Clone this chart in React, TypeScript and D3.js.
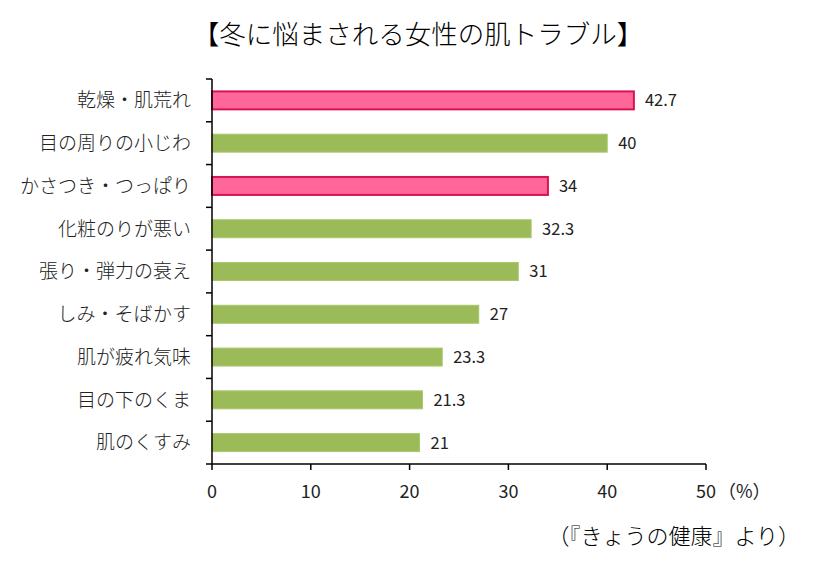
import React from "react";
import * as d3 from "d3";

const categories = ["乾燥・肌荒れ", "目の周りの小じわ", "かさつき・つっぱり", "化粧のりが悪い", "張り・弾力の衰え", "しみ・そばかす", "肌が疲れ気味", "目の下のくま", "肌のくすみ"];
const values = [42.7, 40, 34, 32.3, 31, 27, 23.3, 21.3, 21];
const highlighted = [true, false, true, false, false, false, false, false, false];
const xTicks = [0, 10, 20, 30, 40, 50];
const title = "【冬に悩まされる女性の肌トラブル】";
const source = "（『きょうの健康』より）";

const W = 816, H = 563;
const left = 212, right = 706, top = 79, bottom = 464;
const font = "'Noto Sans CJK JP', 'Noto Sans', sans-serif";

export default function App() {
  const x = d3.scaleLinear().domain([0, 50]).range([left, right]);
  const y = d3.scaleBand<string>().domain(categories).range([top, bottom]).paddingInner(0.58).paddingOuter(0.29);
  const yb = d3.scaleBand<string>().domain(categories).range([top, bottom]);
  return (
    <svg width={W} height={H} style={{ position: "absolute", left: 0, top: 0, background: "#fff" }} fontFamily={font}>
      <text x={418} y={44} textAnchor="middle" fontSize={26.5} fill="#000" fontWeight={300}>{title}</text>
      {categories.map((c, i) => (
        <g key={c}>
          <rect x={x(0)} y={y(c)!} width={x(values[i]) - x(0)} height={y.bandwidth()}
            fill={highlighted[i] ? "#FF6699" : "#9BBB59"}
            stroke={highlighted[i] ? "#D9134F" : "#A9C76B"} strokeWidth={highlighted[i] ? 2 : 1} />
          <text x={x(values[i]) + 11} y={y(c)! + y.bandwidth() / 2} dy="0.36em" fontSize={16.5} fill="#222">{values[i]}</text>
          <text x={191} y={yb(c)! + yb.bandwidth() / 2} dy="0.36em" textAnchor="end" fontSize={19} fill="#222" fontWeight={300}>{c}</text>
        </g>
      ))}
      <line x1={left} x2={left} y1={top} y2={bottom} stroke="#000" strokeWidth={1.5} />
      {categories.map((c, i) => (
        <line key={"t" + i} x1={left - 6} x2={left} y1={yb(c)!} y2={yb(c)!} stroke="#000" strokeWidth={1.5} />
      ))}
      <line x1={left - 6} x2={left} y1={bottom} y2={bottom} stroke="#000" strokeWidth={1.5} />
      <line x1={left} x2={right} y1={bottom} y2={bottom} stroke="#000" strokeWidth={1.5} />
      {xTicks.map(t => (
        <g key={t}>
          <line x1={x(t)} x2={x(t)} y1={bottom} y2={bottom + 6} stroke="#000" strokeWidth={1.5} />
          <text x={x(t)} y={498} textAnchor="middle" fontSize={18} fill="#222">{t}</text>
        </g>
      ))}
      <text x={718} y={498} fontSize={18} fill="#222">（%）</text>
      <text x={800} y={544} textAnchor="end" fontSize={22} fill="#000" fontWeight={300}>{source}</text>
    </svg>
  );
}
